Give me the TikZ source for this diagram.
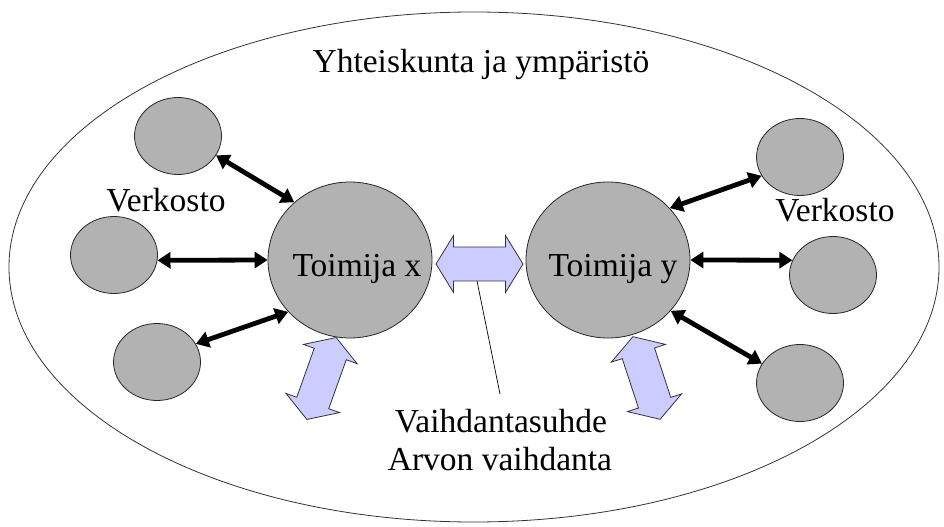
\documentclass[tikz,border=0pt]{standalone}
\usepackage{fontspec}
\setmainfont{Liberation Serif}
\usetikzlibrary{shapes.geometric,arrows.meta}
\definecolor{nodegray}{RGB}{178,178,178}
\definecolor{lav}{RGB}{204,204,255}
\tikzset{
  bigcirc/.style={ellipse,draw=black!85,line width=0.8bp,fill=nodegray,minimum width=164bp,minimum height=156bp,inner sep=0},
  smallcirc/.style={ellipse,draw=black!85,line width=0.8bp,fill=nodegray,minimum width=87bp,minimum height=77bp,inner sep=0},
  lbl/.style={anchor=base,inner sep=0,font=\fontsize{33.5bp}{38bp}\selectfont},
  conn/.style={line width=4.8bp,{Triangle[length=13bp,width=16bp]}-{Triangle[length=13bp,width=16bp]}},
  lavarrow/.style={draw=black!80,line width=0.8bp,fill=lav,line join=miter},
  thinline/.style={line width=0.7bp,draw=black}
}
\newcommand{\dblarrowshape}{(-43.5,0) -- (-26,28.5) -- (-26,17) -- (26,17) -- (26,28.5) -- (43.5,0) -- (26,-28.5) -- (26,-17) -- (-26,-17) -- (-26,-28.5) -- cycle}
\begin{document}
\begin{tikzpicture}[x=1bp,y=-1bp]
\useasboundingbox (0,0) rectangle (944,527);
% outer ellipse
\node[ellipse,draw=black!80,line width=0.8bp,minimum width=930bp,minimum height=510bp,inner sep=0] (env) at (474,267) {};
\node[lbl] (envl) at (481,73) {Yhteiskunta ja ympäristö};
% main actors
\node[bigcirc] (x) at (350,260) {};
\node[bigcirc] (y) at (608,260) {};
\node[lbl] (xl) at (357,277) {Toimija x};
\node[lbl] (yl) at (613,277) {Toimija y};
% network left
\node[smallcirc] (tl) at (178,136) {};
\node[smallcirc] (ml) at (114,255) {};
\node[smallcirc] (bl) at (157,362) {};
\node[lbl] (vl) at (166,212) {Verkosto};
% network right
\node[smallcirc] (tr) at (800,157) {};
\node[smallcirc] (mr) at (833,275) {};
\node[smallcirc] (br) at (800,383) {};
\node[lbl] (vr) at (835,222) {Verkosto};
% connectors
\draw[conn] (tl.-27) -- (x.134);
\draw[conn] (ml.-7) -- (x.180);
\draw[conn] (bl.25) -- (x.220);
\draw[conn] (y.40) -- (tr.206);
\draw[conn] (y.0) -- (mr.160);
\draw[conn] (y.321) -- (br.153);
% exchange arrows
\begin{scope}[shift={(479.5,264)}]
  \draw[lavarrow] \dblarrowshape;
  \coordinate (hb) at (-2.5,17);
\end{scope}
\begin{scope}[shift={(321.5,378.5)},rotate=70.3]
  \draw[lavarrow] \dblarrowshape;
\end{scope}
\begin{scope}[shift={(646.5,378)},rotate=108.2]
  \draw[lavarrow] \dblarrowshape;
\end{scope}
% labels bottom
\node[lbl] (vs) at (501,432) {Vaihdantasuhde};
\node[lbl] (av) at (500,470) {Arvon vaihdanta};
\coordinate (le) at (500,394);
\draw[thinline] (hb) -- (le);
\end{tikzpicture}
\end{document}
